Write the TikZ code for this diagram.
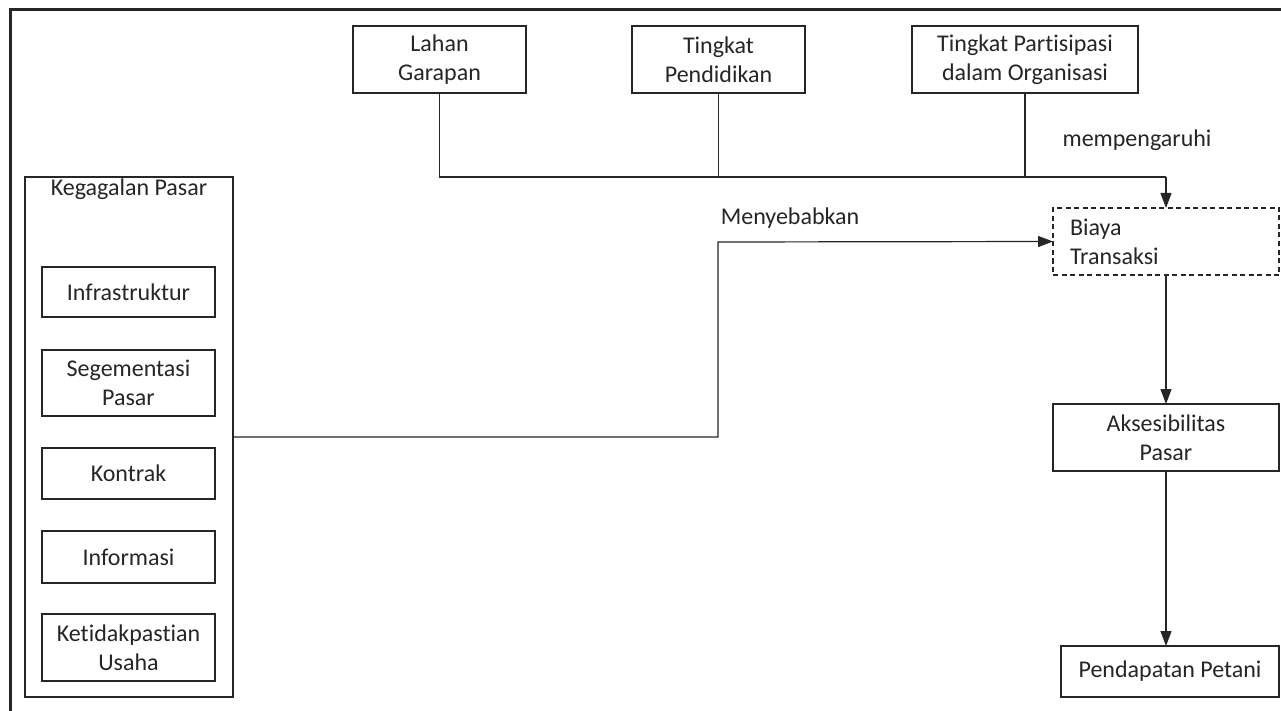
\documentclass[tikz,border=0pt]{standalone}
\usepackage{fontspec}
\setmainfont[Ligatures=NoCommon]{Carlito}
\usetikzlibrary{arrows.meta}
\definecolor{ink}{HTML}{262626}
\tikzset{
  box/.style={draw=ink, line width=1.2pt, rectangle, inner sep=0pt, outer sep=0pt, align=center, text=ink, font=\fontsize{24}{29}\selectfont},
  dbox/.style={box, dash pattern=on 5pt off 3.5pt},
  lbl/.style={text=ink, inner sep=0pt, font=\fontsize{24}{29}\selectfont},
  conn/.style={draw=ink, line width=1.2pt},
  arr/.style={conn, -{Triangle[length=15pt,width=11pt]}}
}
\begin{document}
\begin{tikzpicture}[x=1pt,y=-1pt]
\useasboundingbox (0,0) rectangle (1281,711);
\fill[white] (0,0) rectangle (1281,711);
\begin{scope}
\clip (0,0) rectangle (1281,711);
\draw[line width=3pt, draw=ink] (10,10) rectangle (1320,760);
\end{scope}
% top boxes
\node[box, minimum width=173pt, minimum height=67pt] (lg) at (439.5,59.5) {Lahan\\Garapan};
\node[box, minimum width=173pt, minimum height=67pt] (tp) at (718.5,59.5) {Tingkat\\Pendidikan};
\node[box, minimum width=226pt, minimum height=67pt] (po) at (1025,59.5) {Tingkat Partisipasi\\dalam Organisasi};
% right column
\node[dbox, minimum width=226pt, minimum height=67pt, text width=192pt, align=left] (bt) at (1166,241.5) {Biaya\\Transaksi};
\node[box, minimum width=226pt, minimum height=67pt] (ap) at (1166,437.5) {Aksesibilitas\\Pasar};
\node[box, minimum width=218pt, minimum height=51pt] (pp) at (1170,671.5) {Pendapatan Petani};
% left group
\node[box, minimum width=208pt, minimum height=520pt] (kg) at (129,437) {};
\node[lbl, anchor=base] (kgt) at (129,196) {Kegagalan Pasar};
\node[box, minimum width=173pt, minimum height=50pt] (inf) at (128.5,292) {Infrastruktur};
\node[box, minimum width=173pt, minimum height=66pt] (seg) at (128.5,383) {Segementasi\\Pasar};
\node[box, minimum width=173pt, minimum height=51pt] (kon) at (128.5,473.5) {Kontrak};
\node[box, minimum width=173pt, minimum height=52pt] (infm) at (128.5,557) {Informasi};
\node[box, minimum width=173pt, minimum height=67pt] (ket) at (128.5,647.5) {Ketidakpastian\\Usaha};
% labels
\node[lbl, anchor=base] (men) at (790,225) {Menyebabkan};
\node[lbl, anchor=base] (mem) at (1137,147) {mempengaruhi};
% connectors
\coordinate (j) at (1166,177);
\coordinate (m1) at (718,242);
\draw[conn] (lg.south) |- (j);
\draw[conn] (tp.south) -- (tp.south |- j);
\draw[conn] (po.south) -- (po.south |- j);
\draw[arr] (j) -- (bt.north);
\draw[arr] (kg.east) -| (m1) -- (bt.west);
\draw[arr] (bt.south) -- (ap.north);
\draw[arr] (ap.south) -- (ap.south |- pp.north);
\end{tikzpicture}
\end{document}
